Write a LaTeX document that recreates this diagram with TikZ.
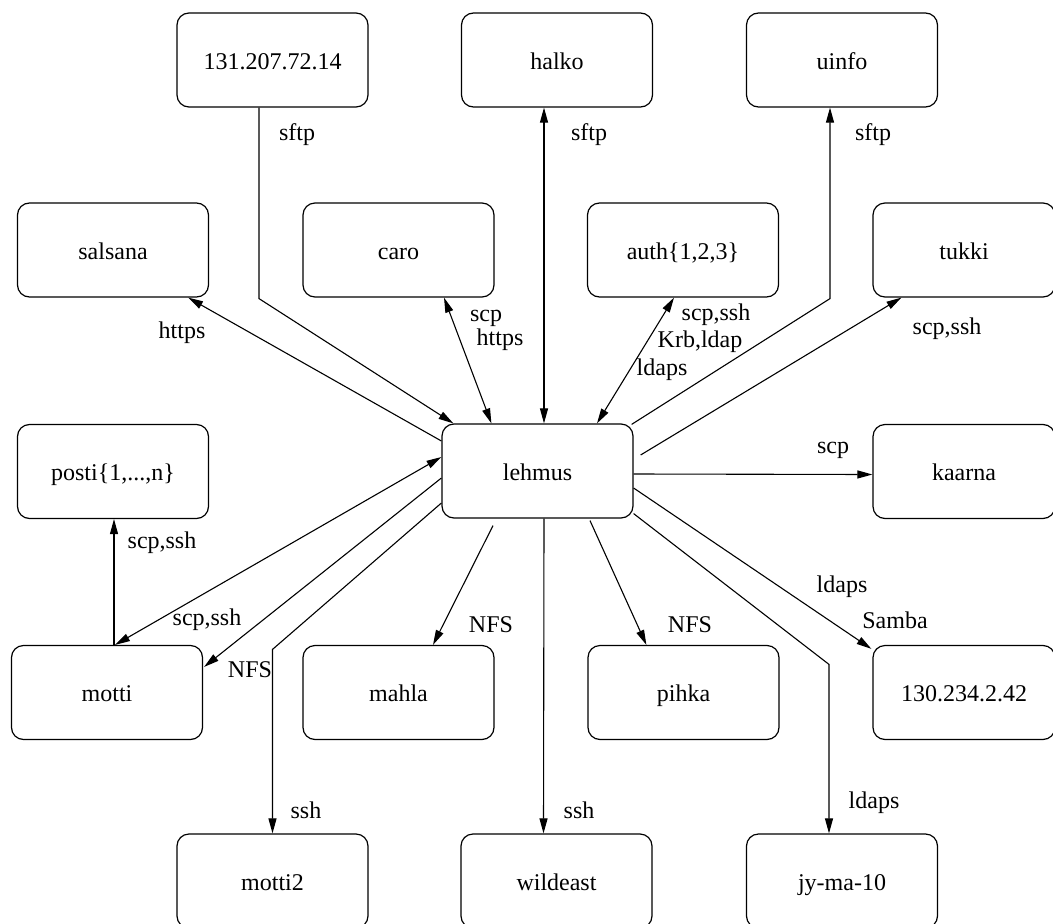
\documentclass[tikz,border=0pt]{standalone}
\usepackage{fontspec}
\setmainfont{Liberation Serif}
\usetikzlibrary{arrows.meta,calc}
\begin{document}
\begin{tikzpicture}[x=1pt,y=-1pt,
  box/.style={draw, rounded corners=12pt, line width=1.2pt, minimum width=191pt, minimum height=94pt, inner sep=0pt, text height=20pt, text depth=2pt, font=\fontsize{24}{28}\selectfont},
  lbl/.style={inner sep=0pt, font=\fontsize{24}{28}\selectfont},
  con/.style={line width=1.1pt, >={Triangle[length=15pt,width=8pt]}},
]
\useasboundingbox (0,0) rectangle (1053,924);

% nodes
\node[box] (n131) at (272.5,60) {131.207.72.14};
\node[box] (halko) at (557,60) {halko};
\node[box] (uinfo) at (842,60) {uinfo};
\node[box] (salsana) at (113,250) {salsana};
\node[box] (caro) at (398.5,250) {caro};
\node[box] (auth) at (683,250) {auth\{1,2,3\}};
\node[box, minimum width=182pt] (tukki) at (964,250) {tukki};
\node[box] (posti) at (113,471.5) {posti\{1,...,n\}};
\node[box] (lehmus) at (537.5,471) {lehmus};
\node[box, minimum width=182pt] (kaarna) at (964,471.5) {kaarna};
\node[box] (motti) at (107,692.5) {motti};
\node[box] (mahla) at (398.5,692.5) {mahla};
\node[box] (pihka) at (683.5,692.5) {pihka};
\node[box, minimum width=182pt] (n130) at (964,692.5) {130.234.2.42};
\node[box] (motti2) at (272.5,881) {motti2};
\node[box] (wildeast) at (556.5,881) {wildeast};
\node[box] (jy) at (842,881) {jy-ma-10};

% connectors
\draw[con,->] ($(n131.south)+(-13.5,0)$) -- ++(0,191) -- ($(lehmus.north west)+(12,0)$);
\draw[con,->] ($(lehmus.west)+(0,-30)$) -- ($(salsana.south east)+(-21,0)$);
\draw[con,<->] ($(caro.south)+(45.5,0)$) -- ($(lehmus.north west)+(50,0)$);
\draw[con,<->] ($(halko.south)+(-13,0)$) -- ($(lehmus.north)+(6.5,0)$);
\draw[con,<->] ($(auth.south)+(-9,0)$) -- ($(lehmus.north)+(59.5,0)$);
\draw[con,->] ($(lehmus.north east)+(-2,1)$) -- ($(uinfo.south)+(-12,191)$) -- ($(uinfo.south)+(-12,0)$);
\draw[con,->] ($(lehmus.east)+(7,-16)$) -- ($(tukki.south west)+(29,0)$);
\draw[con,->] ($(lehmus.east)+(0,3)$) -- ($(kaarna.west)+(0,3)$);
\draw[con,->] ($(lehmus.east)+(0,17)$) -- ($(n130.north west)+(-1,4)$);
\draw[con,->] ($(lehmus.south east)+(0,-5)$) -- ($(jy.north)+(-13,-169)$) -- ($(jy.north)+(-13,0)$);
\draw[con,->] ($(lehmus.south)+(52.5,2)$) -- ($(pihka.north west)+(59,0)$);
\draw[con,->] ($(lehmus.south)+(6.5,0)$) -- ($(wildeast.north)+(-13,0)$);
\draw[con,->] ($(lehmus.south)+(-44.5,7)$) -- ($(mahla.north)+(34.5,0)$);
\draw[con,->] ($(lehmus.west)+(0,32)$) -- ($(motti2.north)+(0,-184)$) -- (motti2.north);
\draw[con,->] ($(lehmus.west)+(0,7)$) -- ($(motti.north east)+(1,22)$);
\draw[con,<->] ($(lehmus.west)+(0,-14)$) -- ($(motti.north)+(8,0)$);
\draw[con,->] ($(motti.north)+(7,0)$) -- ($(posti.south)+(1,0)$);

% labels
\node[lbl] (l1) at (297,135) {sftp};
\node[lbl] (l2) at (589,135) {sftp};
\node[lbl] (l3) at (873,135) {sftp};
\node[lbl] (l4) at (182,333) {https};
\node[lbl] (l5) at (486,318) {scp};
\node[lbl] (l6) at (500,340) {https};
\node[lbl] (l7) at (716,315) {scp,ssh};
\node[lbl] (l8) at (700,342) {Krb,ldap};
\node[lbl] (l9) at (662,370) {ldaps};
\node[lbl] (l10) at (947,329) {scp,ssh};
\node[lbl] (l11) at (833,450) {scp};
\node[lbl] (l12) at (842,587) {ldaps};
\node[lbl] (l13) at (895,620) {Samba};
\node[lbl] (l14) at (690,625) {NFS};
\node[lbl] (l15) at (491,625) {NFS};
\node[lbl] (l16) at (207,620) {scp,ssh};
\node[lbl] (l17) at (250,670) {NFS};
\node[lbl] (l18) at (162,543) {scp,ssh};
\node[lbl] (l19) at (306,810) {ssh};
\node[lbl] (l20) at (579,810) {ssh};
\node[lbl] (l21) at (874,803) {ldaps};
\end{tikzpicture}
\end{document}
